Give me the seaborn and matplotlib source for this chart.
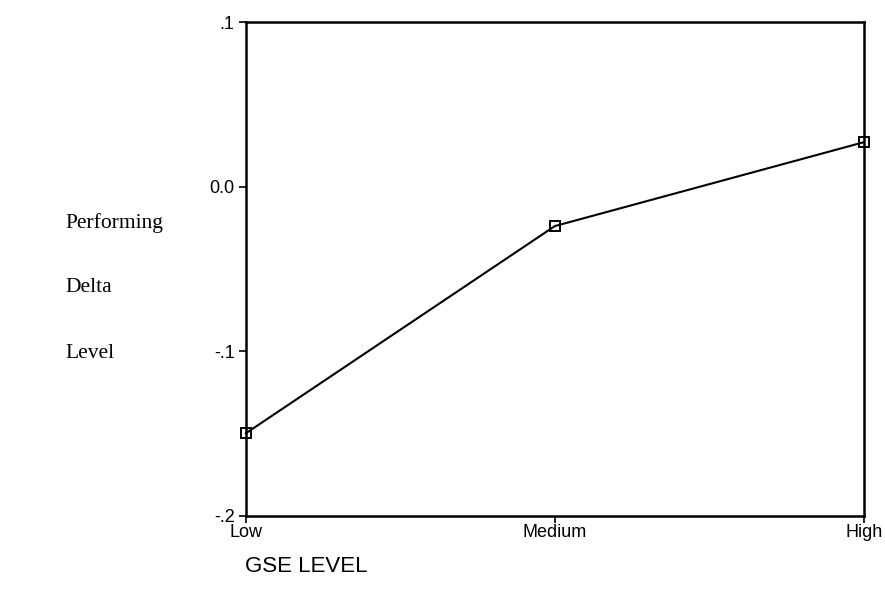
import matplotlib
matplotlib.use("Agg")
import matplotlib.pyplot as plt
import seaborn as sns
import pandas as pd

levels = ["Low", "Medium", "High"]
delta = [-0.150, -0.024, 0.027]
yticks = [-0.2, -0.1, 0.0, 0.1]
ytick_labels = ["-.2", "-.1", "0.0", ".1"]

sns.set_style("white")
plt.rcParams["font.family"] = ["Liberation Sans", "DejaVu Sans"]
plt.rcParams["text.color"] = "black"

df = pd.DataFrame({"level": levels, "delta": delta})

fig = plt.figure(figsize=(8.85, 6), dpi=100)
ax = fig.add_axes([0.2776, 0.1405, 0.9763 - 0.2776, 0.9633 - 0.1405])
sns.lineplot(data=df, x="level", y="delta", ax=ax, color="black", linewidth=1.5,
             marker="s", markersize=7.5, markerfacecolor="none",
             markeredgecolor="black", markeredgewidth=1.4, sort=False,
             clip_on=False, zorder=5)

ax.set_xlim(0, 2)
ax.set_ylim(-0.2, 0.1)
ax.set_yticks(yticks)
ax.set_yticklabels(ytick_labels)
ax.set_xticks(range(len(levels)))
ax.set_xticklabels(levels)
ax.tick_params(axis="both", direction="out", length=5, width=1.2, labelsize=13,
               colors="black", left=True, bottom=True)
ax.tick_params(axis="x", pad=1)
ax.tick_params(axis="y", pad=3)
for s in ax.spines.values():
    s.set_visible(True)
    s.set_color("black")
    s.set_linewidth(1.8)
ax.set_xlabel("")
ax.set_ylabel("")

fig.text(245 / 885, 1 - 566 / 600, "GSE LEVEL", fontsize=16, ha="left", va="center",
         color="black")
for txt, y in [("Performing", 223), ("Delta", 288), ("Level", 353)]:
    fig.text(65 / 885, 1 - y / 600, txt, fontsize=15.5, ha="left", va="center",
             color="black", family=["Liberation Serif", "DejaVu Serif"])

fig.savefig("out.png", dpi=100)
